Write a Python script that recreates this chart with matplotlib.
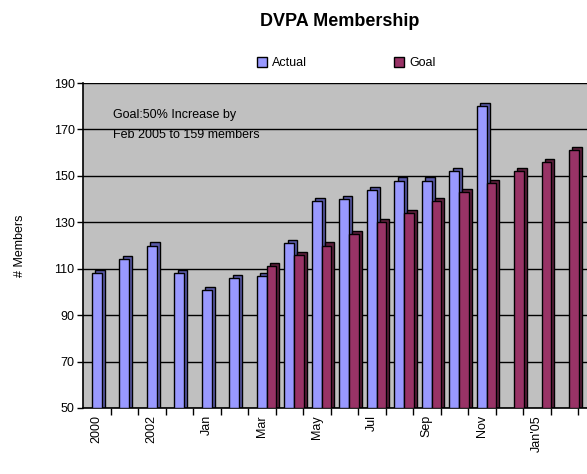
import numpy as np
import matplotlib
matplotlib.use("Agg")
import matplotlib.pyplot as plt
from matplotlib.patches import Patch

categories = ["2000", "2001", "2002", "2003", "Jan", "Feb", "Mar", "Apr", "May", "Jun",
              "Jul", "Aug", "Sep", "Oct", "Nov", "Dec", "Jan'05", "Feb"]
tick_labels = ["2000", "", "2002", "", "Jan", "", "Mar", "", "May", "", "Jul", "",
               "Sep", "", "Nov", "", "Jan'05", ""]
actual = [108, 114, 120, 108, 101, 106, 107, 121, 139, 140, 144, 148, 148, 152, 180,
          np.nan, np.nan, np.nan]
goal = [np.nan, np.nan, np.nan, np.nan, np.nan, np.nan, 111, 116, 120, 125, 130, 134,
        139, 143, 147, 152, 156, 161]

plt.rcParams['font.family'] = ['Liberation Sans', 'DejaVu Sans']

W, H = 587, 474
fig = plt.figure(figsize=(W / 100, H / 100), dpi=100)
left_px, right_px, top_px, bot_px = 83, 600, 83, 408
ax = fig.add_axes([left_px / W, 1 - bot_px / H, (right_px - left_px) / W, (bot_px - top_px) / H])

x = np.arange(len(categories))
bw = 0.35
dx = 0.12
dy = 1.3
a = np.array(actual, dtype=float)
g = np.array(goal, dtype=float)

# depth (side) faces
ax.bar(x + dx, a - 50 + dy, width=bw, bottom=50, color="#5a5aa8", edgecolor="black", linewidth=1.0, zorder=2)
ax.bar(x + bw + dx, g - 50 + dy, width=bw, bottom=50, color="#5c1f3b", edgecolor="black", linewidth=1.0, zorder=2)
# front faces
ax.bar(x, a - 50, width=bw, bottom=50, color="#9999FF", edgecolor="black", linewidth=1.0, zorder=3)
ax.bar(x + bw, g - 50, width=bw, bottom=50, color="#993366", edgecolor="black", linewidth=1.0, zorder=3)

ax.set_facecolor("#C0C0C0")
ax.set_ylim(50, 190)
ax.set_xlim(-0.5, -0.5 + (right_px - left_px) / 27.5)
ax.set_yticks(np.arange(50, 191, 20))
ax.yaxis.grid(True, color="black", linewidth=1.0, zorder=1)
ax.set_axisbelow(True)
ax.tick_params(axis='y', labelsize=9, length=4, width=1, direction='out', pad=2)

ax.set_xticks(x)
ax.set_xticklabels(tick_labels, rotation=90, fontsize=9)
ax.tick_params(axis='x', length=0, pad=5)
ax.set_xticks(x + 0.5, minor=True)
ax.tick_params(axis='x', which='minor', length=5, width=1, direction='out')

for s in ["top", "right"]:
    ax.spines[s].set_visible(False)
ax.spines["left"].set_linewidth(1.2)
ax.spines["bottom"].set_linewidth(1.2)

ax.set_ylabel("# Members", fontsize=9, labelpad=20)

ax.text(0.6, 172, "Goal:50% Increase by\nFeb 2005 to 159 members", fontsize=9,
        ha="left", va="center", linespacing=1.9, zorder=4)

fig.text(340 / W, 1 - 22 / H, "DVPA Membership", fontsize=13, fontweight="bold",
         ha="center", va="center")

handles = [Patch(facecolor="#9999FF", edgecolor="black", label="Actual"),
           Patch(facecolor="#993366", edgecolor="black", label="Goal")]
fig.legend(handles=handles, loc="center", bbox_to_anchor=(346 / W, 1 - 63 / H), ncol=2,
           frameon=False, fontsize=9, handlelength=0.8, handleheight=0.8,
           handletextpad=0.4, columnspacing=7.0)

fig.savefig("out.png", dpi=100)
